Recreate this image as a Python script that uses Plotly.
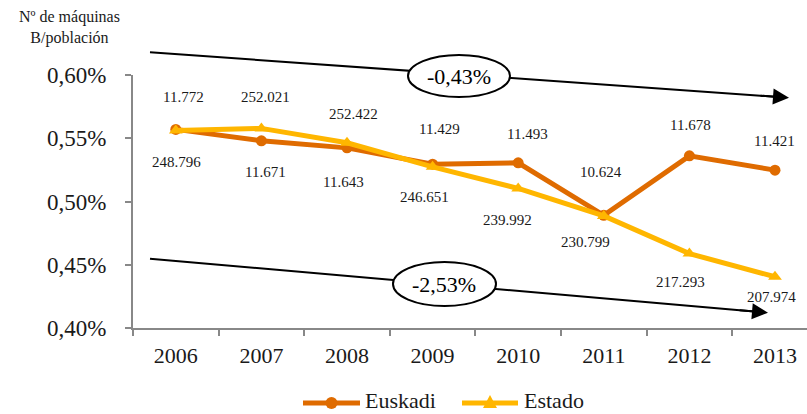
import plotly.graph_objects as go

# ---- data ----
years = ["2006", "2007", "2008", "2009", "2010", "2011", "2012", "2013"]
euskadi_ratio = [0.5570, 0.5480, 0.5424, 0.5295, 0.5306, 0.4891, 0.5361, 0.5248]
estado_ratio = [0.5562, 0.5578, 0.5464, 0.5274, 0.5103, 0.4886, 0.4588, 0.4405]
euskadi_machines = ["11.772", "11.671", "11.643", "11.429", "11.493", "10.624", "11.678", "11.421"]
estado_machines = ["248.796", "252.021", "252.422", "246.651", "239.992", "230.799", "217.293", "207.974"]
y_ticks = [0.40, 0.45, 0.50, 0.55, 0.60]
y_tick_labels = ["0,40%", "0,45%", "0,50%", "0,55%", "0,60%"]
series_names = ["Euskadi", "Estado"]
trend_euskadi = "-0,43%"
trend_estado = "-2,53%"

# ---- label placement (pixels) ----
eus_dx = [8, 4, -4, 7, 9, -3, 1, 0]
eus_dy = [32, -31, -34, 35, 29, 43, 31, 29]
est_dx = [1, 4, 6, -8, -11, -18, -9, -3]
est_dy = [-32, 31, 29, -30, -32, -26, -28, -20]

ORANGE = "#DF6B00"
YELLOW = "#FFB600"
FONT = "Liberation Serif"
TXT = "#1a1a1a"

fig = go.Figure()
fig.add_trace(go.Scatter(
    x=years, y=euskadi_ratio, name=series_names[0], mode="lines+markers",
    line=dict(color=ORANGE, width=5),
    marker=dict(symbol="circle", size=11, color=ORANGE),
))
fig.add_trace(go.Scatter(
    x=years, y=estado_ratio, name=series_names[1], mode="lines+markers",
    line=dict(color=YELLOW, width=5),
    marker=dict(symbol="triangle-up", size=12, color=YELLOW),
))

annotations = []
for i, yr in enumerate(years):
    annotations.append(dict(x=i, y=euskadi_ratio[i], xref="x", yref="y",
                            text=euskadi_machines[i], showarrow=False,
                            xshift=eus_dx[i], yshift=eus_dy[i],
                            font=dict(family=FONT, size=15, color=TXT)))
    annotations.append(dict(x=i, y=estado_ratio[i], xref="x", yref="y",
                            text=estado_machines[i], showarrow=False,
                            xshift=est_dx[i], yshift=est_dy[i],
                            font=dict(family=FONT, size=15, color=TXT)))

# plot area: x pixels 133..807 (674 wide), y pixels 75..328 (253 tall)
def px(p):
    return (p - 133) / 674.0

def py(p):
    return (328 - p) / 253.0

shapes = []
# trend arrows: (tail x, tail y, head x, head y, ellipse box, text, text centre)
trend_arrows = [
    (150, 52.3, 789, 97.7, (408, 510, 55, 97), trend_euskadi, (459, 76)),
    (150, 258.7, 768, 312.7, (393, 496, 262, 306), trend_estado, (444, 284)),
]
for x0, y0, x1, y1, (ex0, ex1, ey0, ey1), label, (tx, ty) in trend_arrows:
    dx, dy = x1 - x0, y1 - y0
    ln = (dx * dx + dy * dy) ** 0.5
    ux, uy = dx / ln, dy / ln
    hx, hy = x1 - ux * 14, y1 - uy * 14
    shapes.append(dict(type="line", xref="paper", yref="paper",
                       x0=px(x0), y0=py(y0), x1=px(hx), y1=py(hy),
                       line=dict(color="black", width=2)))
    shapes.append(dict(type="circle", xref="paper", yref="paper",
                       x0=px(ex0), x1=px(ex1), y0=py(ey1), y1=py(ey0),
                       fillcolor="white", line=dict(color="black", width=2)))
    annotations.append(dict(x=px(x1), y=py(y1), xref="paper", yref="paper",
                            ax=-ux * 30, ay=-uy * 30, axref="pixel", ayref="pixel",
                            text="", showarrow=True, arrowhead=2, arrowsize=1.6,
                            arrowwidth=2, arrowcolor="black"))
    annotations.append(dict(x=px(tx), y=py(ty), xref="paper", yref="paper",
                            xanchor="center", yanchor="middle",
                            text=label, showarrow=False,
                            font=dict(family=FONT, size=22, color="black")))

# axis title
annotations.append(dict(x=px(69), y=py(28), xref="paper", yref="paper",
                        xanchor="center", yanchor="middle",
                        text="Nº de máquinas<br>B/población", showarrow=False,
                        font=dict(family=FONT, size=16, color=TXT),
                        align="center"))

# legend (drawn to match the reference's long line samples)
LEG_Y = 403
legend_items = [
    (series_names[0], ORANGE, "circle", 303, 360, 363),
    (series_names[1], YELLOW, "triangle", 462, 518, 522),
]
for name, col, sym, x0, x1, tx in legend_items:
    shapes.append(dict(type="line", xref="paper", yref="paper",
                       x0=px(x0), x1=px(x1), y0=py(LEG_Y), y1=py(LEG_Y),
                       line=dict(color=col, width=5)))
    cx = (x0 + x1) / 2
    if sym == "circle":
        shapes.append(dict(type="circle", xref="paper", yref="paper",
                           x0=px(cx - 6), x1=px(cx + 6), y0=py(LEG_Y + 6), y1=py(LEG_Y - 6),
                           fillcolor=col, line=dict(color=col, width=0)))
    else:
        shapes.append(dict(type="path", xref="paper", yref="paper",
                           path=f"M {px(cx - 7)} {py(LEG_Y + 5)} L {px(cx + 7)} {py(LEG_Y + 5)} "
                                f"L {px(cx)} {py(LEG_Y - 8)} Z",
                           fillcolor=col, line=dict(color=col, width=0)))
    annotations.append(dict(x=px(tx), y=py(LEG_Y - 3), xref="paper", yref="paper",
                            xanchor="left", yanchor="middle", text=name, showarrow=False,
                            font=dict(family=FONT, size=22, color=TXT)))

fig.update_layout(
    width=807, height=414,
    margin=dict(l=133, r=0, t=75, b=86, autoexpand=False),
    paper_bgcolor="white", plot_bgcolor="white",
    font=dict(family=FONT, color=TXT),
    showlegend=False,
    xaxis=dict(
        type="category", range=[-0.5, 7.374],
        showline=True, linecolor="#888888", linewidth=2,
        ticks="outside", tickson="boundaries", ticklen=6, tickcolor="#888888", tickwidth=2,
        showgrid=False, zeroline=False,
        tickfont=dict(family=FONT, size=22, color=TXT),
        ticklabelstandoff=7,
    ),
    yaxis=dict(
        range=[0.40, 0.60], tickvals=y_ticks, ticktext=y_tick_labels,
        showline=True, linecolor="#888888", linewidth=2,
        ticks="outside", ticklen=6, tickcolor="#888888", tickwidth=2,
        showgrid=False, zeroline=False,
        tickfont=dict(family=FONT, size=23, color=TXT),
        ticklabelstandoff=14,
    ),
    annotations=annotations,
    shapes=shapes,
)

fig.write_html("out.html", config={"displayModeBar": False},
               post_script="document.body.style.margin='0px';")
